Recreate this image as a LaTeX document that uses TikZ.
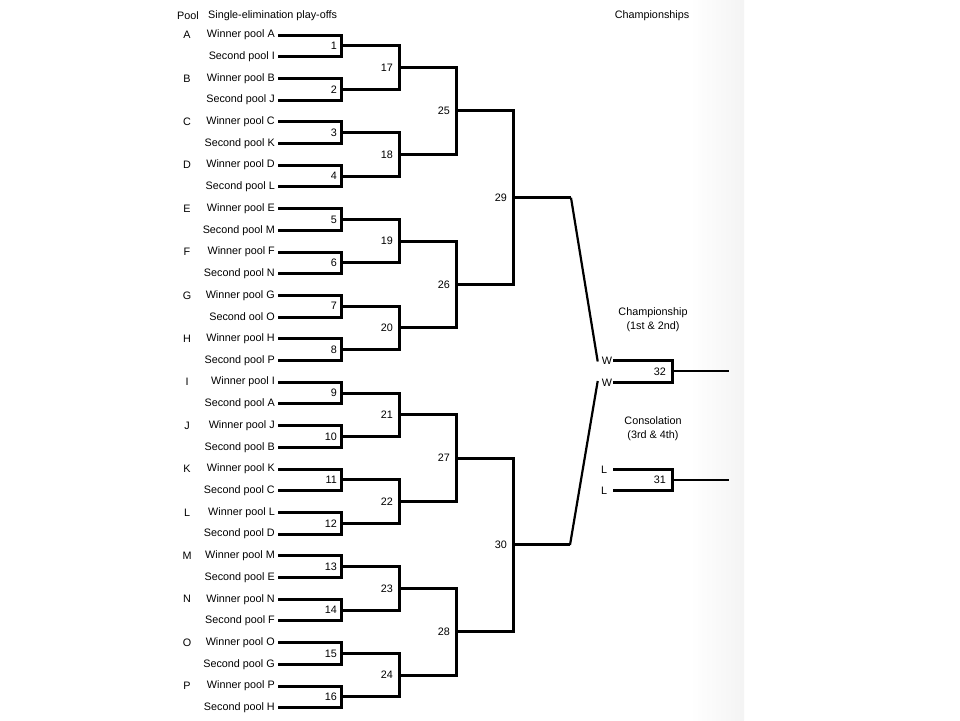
\documentclass[tikz,border=0pt]{standalone}
\usepackage{fontspec}
\setmainfont{Liberation Sans}
\begin{document}
\begin{tikzpicture}[x=1pt,y=-1pt,
  every node/.style={font=\fontsize{10.8}{14}\selectfont, inner sep=0pt},
  bl/.style={line width=3pt, line join=miter},
  thin/.style={line width=2.2pt},
  lab/.style={anchor=east}]
\useasboundingbox (0,0) rectangle (960,720);
\fill[white] (0,0) rectangle (960,720);
\shade[left color=white, right color=gray!9] (690,0) rectangle (744,720);

% headers
\node (hpool) at (188,16) {Pool};
\node[anchor=west] (hse) at (208,16) {Single-elimination play-offs};
\node (hch) at (652,16) {Championships};

% entrants
\foreach \t [count=\i from 0] in {Winner pool A, Second pool I, Winner pool B, Second pool J,
  Winner pool C, Second pool K, Winner pool D, Second pool L, Winner pool E, Second pool M,
  Winner pool F, Second pool N, Winner pool G, Second ool O, Winner pool H, Second pool P,
  Winner pool I, Second pool A, Winner pool J, Second pool B, Winner pool K, Second pool C,
  Winner pool L, Second pool D, Winner pool M, Second pool E, Winner pool N, Second pool F,
  Winner pool O, Second pool G, Winner pool P, Second pool H} {
  \node[anchor=east] (e\i) at (275,35+21.7*\i) {\t};
  \coordinate (s\i) at (278,35+21.7*\i);
}
% pool letters
\foreach \p [count=\k from 0] in {A,B,C,D,E,F,G,H,I,J,K,L,M,N,O,P} {
  \node (p\p) at (187,35+43.4*\k) {\p};
}

% round 1
\foreach \k in {0,...,15} {
  \pgfmathtruncatemacro\a{2*\k}
  \pgfmathtruncatemacro\b{2*\k+1}
  \pgfmathtruncatemacro\n{\k+1}
  \coordinate (ra\k) at (341,45.85+43.4*\k);
  \draw[bl] (s\a) -| (ra\k) |- (s\b);
  \node[lab] (na\k) at ([xshift=-4pt]ra\k) {\n};
}
% round 2
\foreach \j in {0,...,7} {
  \pgfmathtruncatemacro\a{2*\j}
  \pgfmathtruncatemacro\b{2*\j+1}
  \pgfmathtruncatemacro\n{\j+17}
  \coordinate (rb\j) at (399,67.55+86.8*\j);
  \draw[bl] (ra\a) -| (rb\j) |- (ra\b);
  \node[lab] (nb\j) at ([xshift=-6pt]rb\j) {\n};
}
% round 3
\foreach \j in {0,...,3} {
  \pgfmathtruncatemacro\a{2*\j}
  \pgfmathtruncatemacro\b{2*\j+1}
  \pgfmathtruncatemacro\n{\j+25}
  \coordinate (rc\j) at (456,110.95+173.6*\j);
  \draw[bl] (rb\a) -| (rc\j) |- (rb\b);
  \node[lab] (nc\j) at ([xshift=-6pt]rc\j) {\n};
}
% round 4
\foreach \j in {0,1} {
  \pgfmathtruncatemacro\a{2*\j}
  \pgfmathtruncatemacro\b{2*\j+1}
  \pgfmathtruncatemacro\n{\j+29}
  \coordinate (rd\j) at (513,197.75+347.2*\j);
  \draw[bl] (rc\a) -| (rd\j) |- (rc\b);
  \node[lab] (nd\j) at ([xshift=-6pt]rd\j) {\n};
}
\coordinate (d0) at (571,197.75);
\coordinate (d1) at (570,544.95);
\draw[bl] (rd0) -- (d0);
\draw[bl] (rd1) -- (d1);

% finals
\node (w1) at (607,360.5) {W};
\node (w2) at (607,383) {W};
\node (l1) at (604,469.5) {L};
\node (l2) at (604,491) {L};
\draw[thin] (d0) -- ([xshift=-4pt,yshift=-1pt]w1.west);
\draw[thin] (d1) -- ([xshift=-4pt,yshift=2pt]w2.west);

\coordinate (f1) at (613,360.5);
\coordinate (f2) at (613,382.2);
\coordinate (fm) at (672,371.35);
\coordinate (fo) at (729,371.35);
\draw[bl] (f1) -| (fm) |- (f2);
\draw[thin] (fm) -- (fo);
\node[lab] (n32) at ([xshift=-6pt]fm) {32};

\coordinate (g1) at (613,469.5);
\coordinate (g2) at (613,490.7);
\coordinate (gm) at (672,480.1);
\coordinate (go) at (729,480.1);
\draw[bl] (g1) -| (gm) |- (g2);
\draw[thin] (gm) -- (go);
\node[lab] (n31) at ([xshift=-6pt]gm) {31};

\node[align=center] (champ) at (653,320) {Championship\\(1st \& 2nd)};
\node[align=center] (cons) at (653,428.5) {Consolation\\(3rd \& 4th)};
\end{tikzpicture}
\end{document}
